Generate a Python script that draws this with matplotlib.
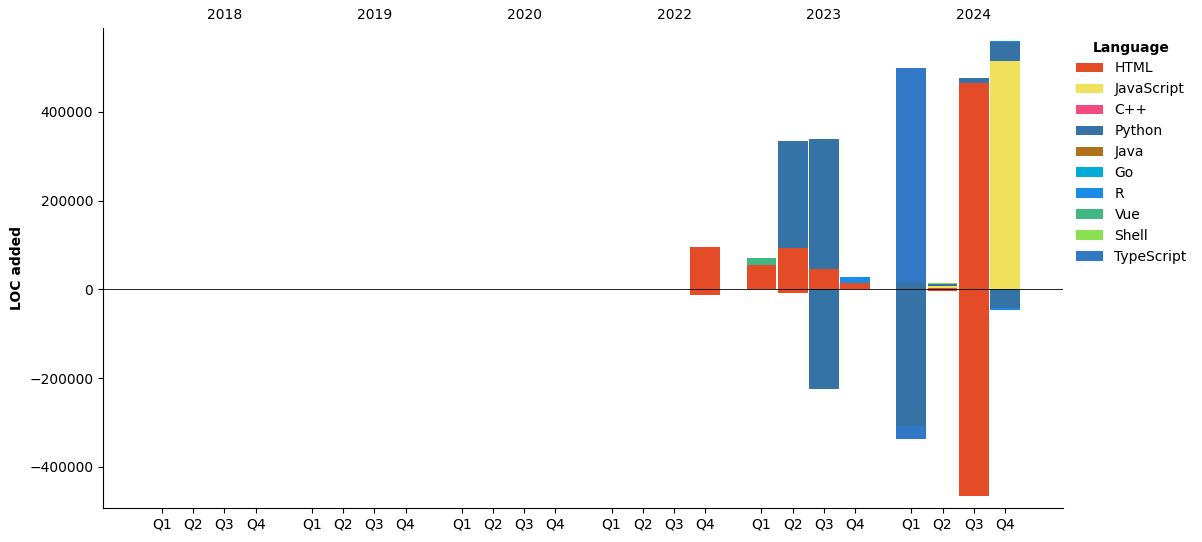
import matplotlib
matplotlib.use("Agg")
import matplotlib.pyplot as plt
import numpy as np

# periods shown on the x axis (2021 has no data and is not shown)
years = [2018, 2019, 2020, 2022, 2023, 2024]
quarters = ["Q1", "Q2", "Q3", "Q4"]

languages = ["HTML", "JavaScript", "C++", "Python", "Java", "Go", "R", "Vue", "Shell", "TypeScript"]
colors = ["#e34c26", "#f1e05a", "#f34b7d", "#3572A5", "#b07219", "#00ADD8", "#198CE7", "#41b883", "#89e051", "#3178c6"]

# lines added (positive) per quarter, 24 quarters: 2018 Q1 .. 2024 Q4
html_add = [0, 0, 0, 0, 0, 0, 0, 0, 0, 0, 0, 0, 0, 0, 0, 95300, 54800, 93700, 45700, 13500, 0, 3600, 464900, 0]
js_add = [0, 0, 0, 0, 0, 0, 0, 0, 0, 0, 0, 0, 0, 0, 0, 0, 0, 0, 0, 0, 0, 4500, 0, 514500]
cpp_add = [0] * 24
python_add = [0, 0, 0, 0, 0, 0, 0, 0, 0, 0, 0, 0, 0, 0, 0, 0, 0, 240500, 293000, 0, 16500, 3200, 11300, 42800]
java_add = [0] * 24
go_add = [0] * 24
r_add = [0, 0, 0, 0, 0, 0, 0, 0, 0, 0, 0, 0, 0, 0, 0, 0, 0, 0, 0, 14200, 0, 0, 0, 2300]
vue_add = [0, 0, 0, 0, 0, 0, 0, 0, 0, 0, 0, 0, 0, 0, 0, 0, 15700, 0, 0, 0, 0, 0, 0, 0]
shell_add = [0, 0, 0, 0, 0, 0, 0, 0, 0, 0, 0, 0, 0, 0, 0, 0, 0, 0, 0, 0, 0, 2900, 0, 0]
ts_add = [0, 0, 0, 0, 0, 0, 0, 0, 0, 0, 0, 0, 0, 0, 0, 0, 0, 0, 0, 0, 482200, 0, 0, 0]

# lines removed (negative)
html_del = [0, 0, 0, 0, 0, 0, 0, 0, 0, 0, 0, 0, 0, 0, 0, -12200, 0, -7700, 0, 0, 0, -3800, -465100, 0]
python_del = [0, 0, 0, 0, 0, 0, 0, 0, 0, 0, 0, 0, 0, 0, 0, 0, 0, 0, -224000, 0, -307400, 0, 0, -41500]
r_del = [0, 0, 0, 0, 0, 0, 0, 0, 0, 0, 0, 0, 0, 0, 0, 0, 0, 0, 0, 0, 0, 0, 0, -5200]
ts_del = [0, 0, 0, 0, 0, 0, 0, 0, 0, 0, 0, 0, 0, 0, 0, 0, 0, 0, 0, 0, -29300, 0, 0, 0]
zero = [0] * 24

added = [html_add, js_add, cpp_add, python_add, java_add, go_add, r_add, vue_add, shell_add, ts_add]
removed = [html_del, zero, zero, python_del, zero, zero, r_del, zero, zero, ts_del]

group_step = 4.8
x = np.array([i * group_step + q for i in range(len(years)) for q in range(4)])

fig = plt.figure(figsize=(12.02, 5.42), dpi=100)
ax = fig.add_axes([0.0857, 0.0627, 0.7987, 0.8856])

pos_bottom = np.zeros(len(x))
neg_bottom = np.zeros(len(x))
for lang, col, a, r in zip(languages, colors, added, removed):
    a = np.array(a, dtype=float)
    r = np.array(r, dtype=float)
    ax.bar(x, a, width=0.95, bottom=pos_bottom, color=col, label=lang)
    ax.bar(x, r, width=0.95, bottom=neg_bottom, color=col)
    pos_bottom += a
    neg_bottom += r

ax.axhline(0, color="black", lw=0.6)

ax.set_xticks(x)
ax.set_xticklabels(quarters * len(years))
ax.set_xlim(-1.89, 28.86)
ax.set_ylim(-493000, 589000)
ax.set_yticks([-400000, -200000, 0, 200000, 400000])
ax.set_yticklabels(["\u2212400000", "\u2212200000", "0", "200000", "400000"])
ax.set_ylabel("LOC added", fontweight="bold")

# year labels above each group
trans = ax.get_xaxis_transform()
for i, yr in enumerate(years):
    ax.text(i * group_step + 2, 1.012, str(yr), transform=trans, ha="center", va="bottom", fontsize=10)

ax.spines["top"].set_visible(False)
ax.spines["right"].set_visible(False)

leg = ax.legend(title="Language", loc="upper left", bbox_to_anchor=(1.0, 1.0), frameon=False)
leg.get_title().set_fontweight("bold")

fig.savefig("out.png", dpi=100)
